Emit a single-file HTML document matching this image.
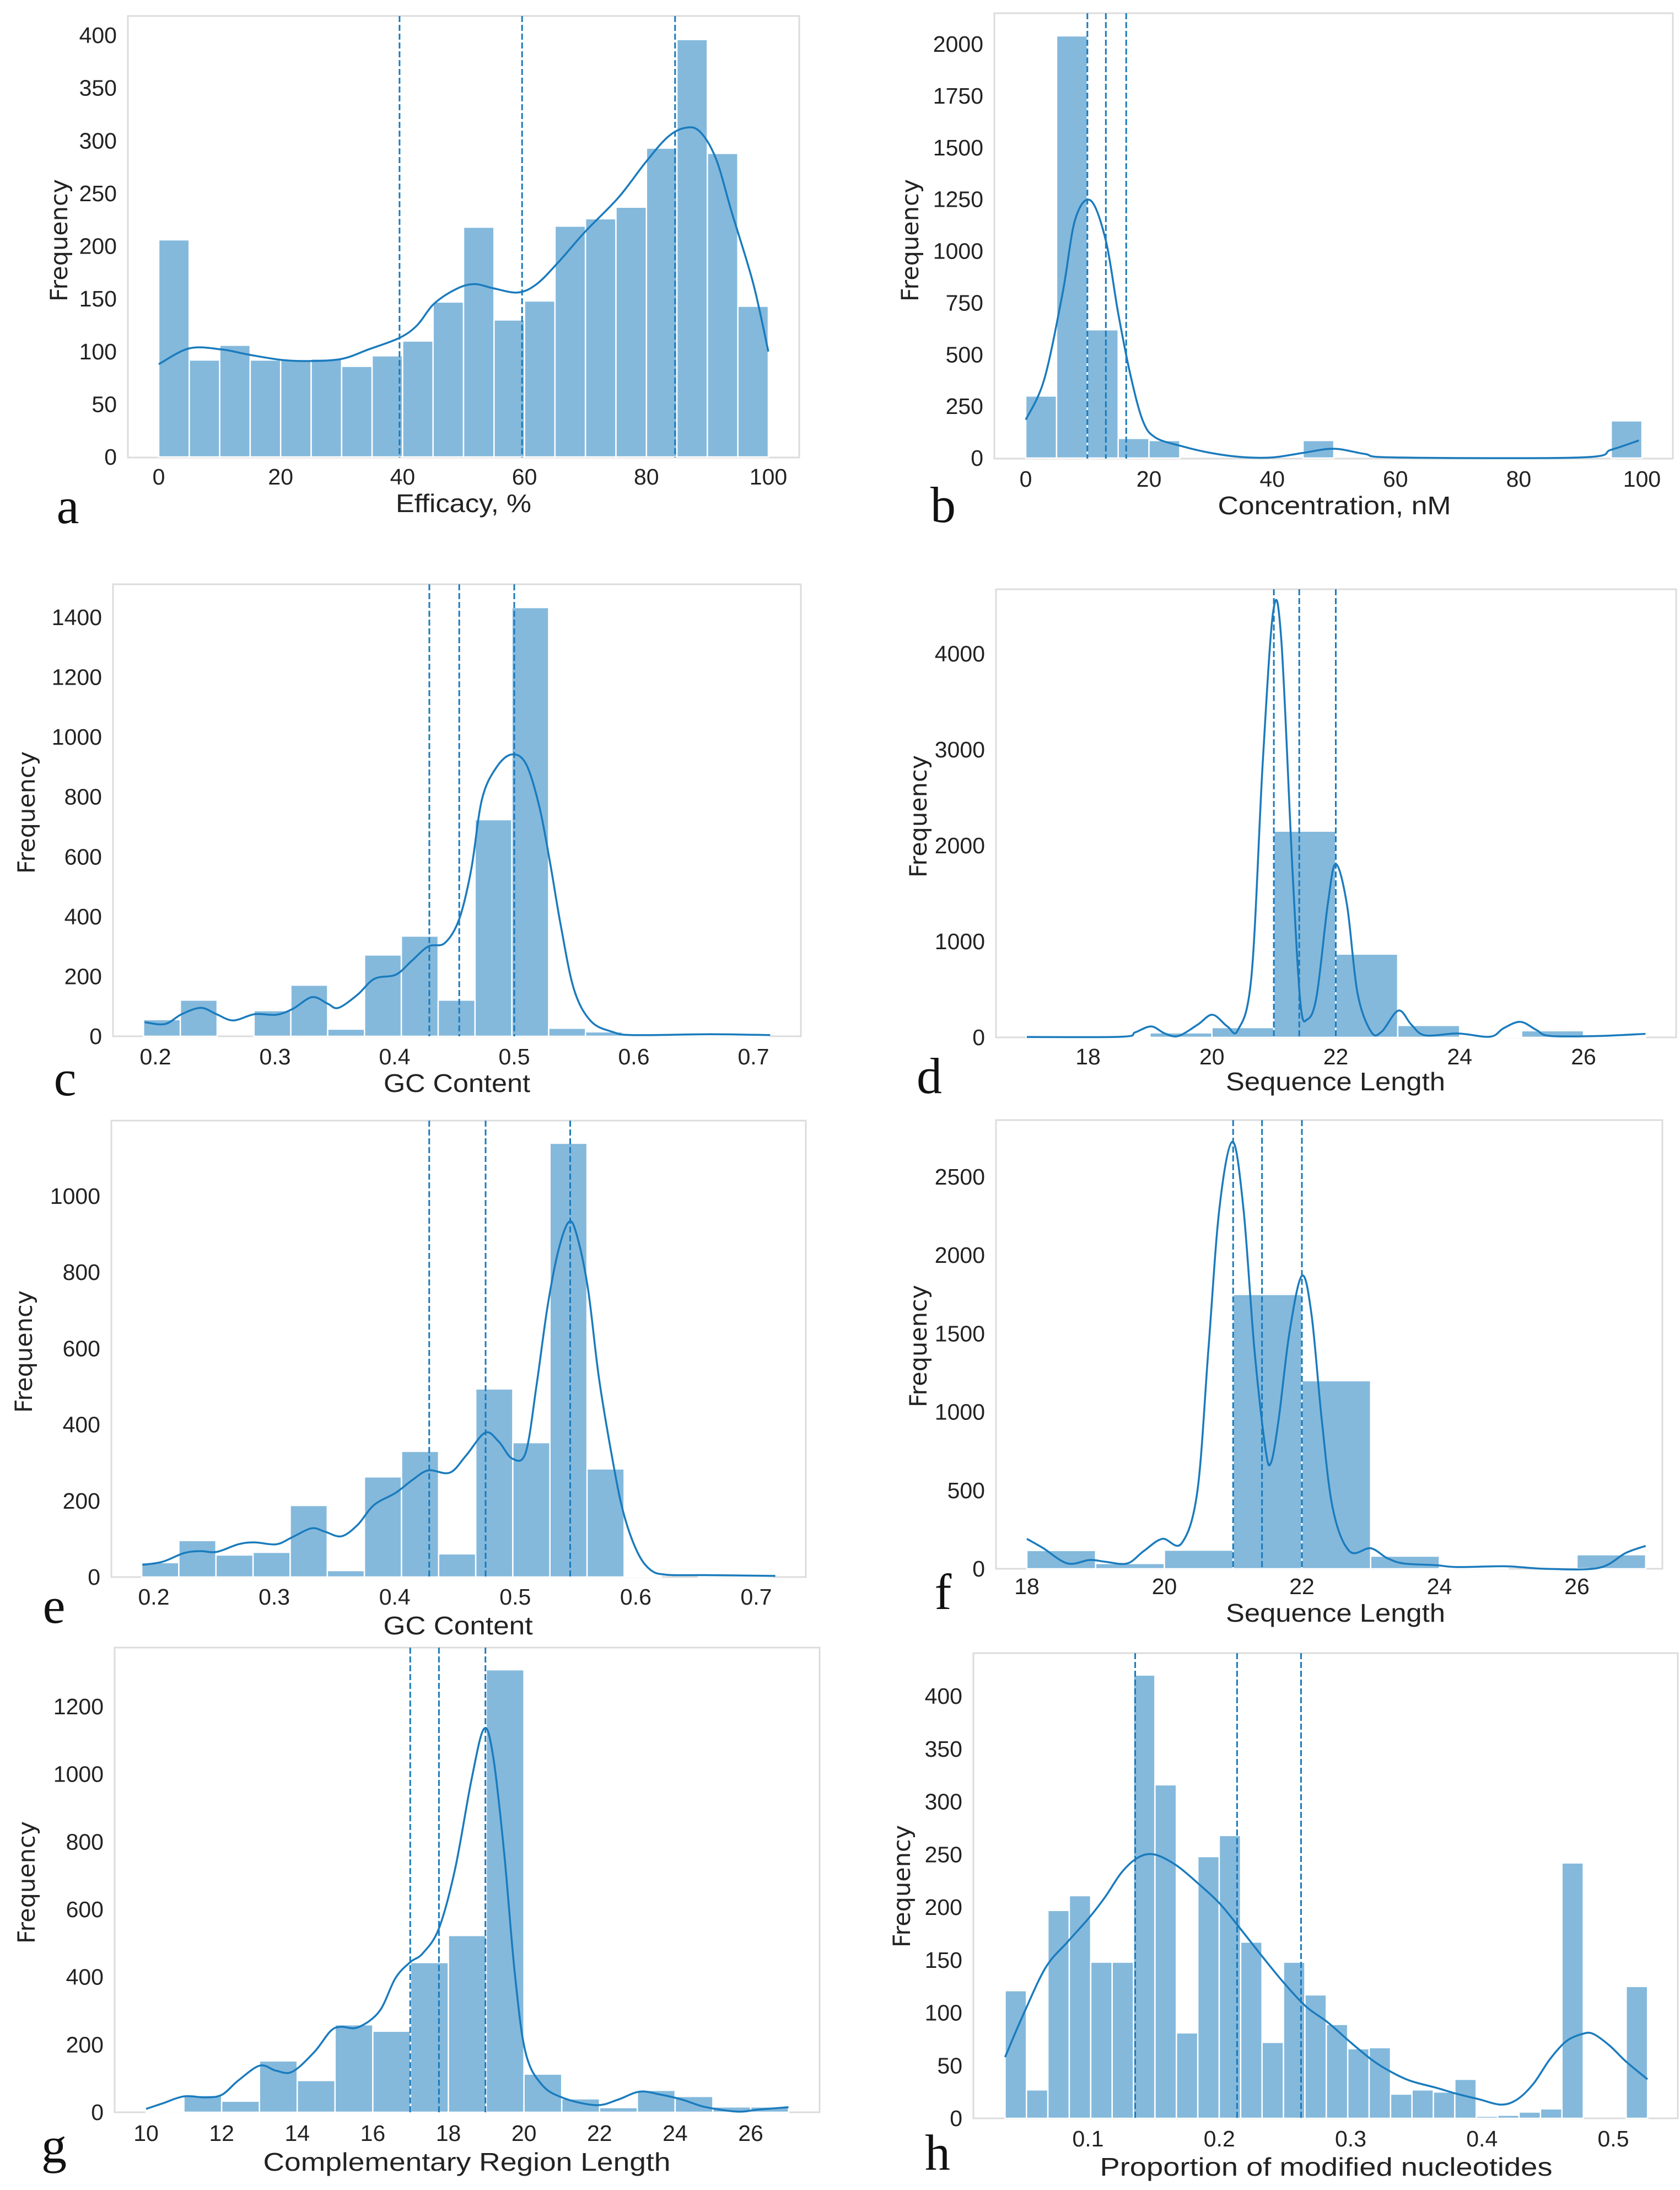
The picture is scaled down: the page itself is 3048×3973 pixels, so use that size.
<!DOCTYPE html>
<html><head><meta charset="utf-8">
<style>
html,body{margin:0;padding:0;background:#fff;}
svg{display:block;}
</style></head>
<body>
<svg id="fig" width="3048" height="3973" viewBox="0 0 3048 3973" xmlns="http://www.w3.org/2000/svg"></svg>
<script>
// ---------- Panel a: Efficacy ----------
const aBinStart = 0, aBinWidth = 5;
const aCounts = [206,92,106,92,92,93,86,96,110,147,218,130,148,219,226,237,293,396,288,143];
const aKdeX = [0,5,10.3,14.8,20.2,24.6,30,34.4,39.5,42.4,45.1,48.7,51.7,54.9,58.9,62,65.6,70,75.4,79.8,83.4,86.2,88.7,91.4,94,97.5,100];
const aKdeY = [88,103,102,97,92,91,93,102,113,125,145,159,164,160,156,164,185,214,246,279,303,312,309,283,232,165,100];
const aQuant = [39.5,59.6,84.7];
const aXTicks = [0,20,40,60,80,100];
const aYTicks = [0,50,100,150,200,250,300,350,400];

// ---------- Panel b: Concentration ----------
const bBinStart = 0, bBinWidth = 5;
const bCounts = [300,2040,620,95,85,0,0,0,0,85,0,0,0,0,0,0,0,0,0,180];
const bKdeX = [0,3,6,8,10.5,13,15,17,19,21,25,30,35,40,45,50,55,60,90,95,99.5];
const bKdeY = [185,380,800,1150,1245,1050,700,400,180,100,60,25,5,3,25,45,20,3,3,40,85];
const bQuant = [10,13,16.3];
const bXTicks = [0,20,40,60,80,100];
const bYTicks = [0,250,500,750,1000,1250,1500,1750,2000];

// ---------- Panel c: GC Content ----------
const cBinStart = 0.19, cBinWidth = 0.0308;
const cCounts = [56,121,0,86,171,24,272,335,121,724,1433,27,15,5,3,2,3];
const cKdeX = [0.191,0.208,0.222,0.238,0.251,0.265,0.283,0.301,0.315,0.331,0.344,0.353,0.369,0.383,0.401,0.414,0.428,0.442,0.454,0.464,0.473,0.485,0.498,0.510,0.521,0.530,0.539,0.550,0.564,0.582,0.600,0.664,0.714];
const cKdeY = [47,41,74,95,74,53,74,72,92,131,109,95,139,192,206,251,300,312,392,557,792,898,942,909,767,579,368,156,51,15,4,7,4];
const cQuant = [0.429,0.454,0.500];
const cXTicks = [0.2,0.3,0.4,0.5,0.6,0.7];
const cYTicks = [0,200,400,600,800,1000,1200,1400];

// ---------- Panel d: Sequence Length ----------
const dBinStart = 17, dBinWidth = 1;
const dCounts = [5,5,48,103,2151,869,125,8,70,5];
const dKdeX = [17.01,18.54,18.76,19.02,19.24,19.46,19.77,20.01,20.25,20.42,20.64,20.82,20.99,21.12,21.30,21.43,21.54,21.69,21.87,22.0,22.18,22.35,22.57,22.74,23.01,23.22,23.44,23.97,24.49,24.71,24.98,25.24,25.46,26.25,27.0];
const dKdeY = [4,7,52,114,41,15,133,236,114,77,648,2858,4442,4147,1753,354,188,427,1385,1808,1385,464,59,59,280,133,22,41,7,96,162,77,15,15,37];
const dQuant = [21.0,21.41,22.0];
const dXTicks = [18,20,22,24,26];
const dYTicks = [0,1000,2000,3000,4000];

// ---------- Panel e: GC Content ----------
const eBinStart = 0.19, eBinWidth = 0.0308;
const eCounts = [38,96,58,65,188,17,263,330,61,494,353,1139,284,3,0,1,2];
const eKdeX = [0.1905,0.2072,0.2252,0.2387,0.2522,0.2702,0.2837,0.3017,0.3152,0.3310,0.3422,0.3557,0.3692,0.3827,0.4007,0.4143,0.4278,0.4457,0.4592,0.475,0.4862,0.4975,0.5087,0.5177,0.5267,0.5357,0.5447,0.5515,0.5605,0.5695,0.5807,0.5897,0.601,0.6122,0.6257,0.6573,0.7158];
const eKdeY = [32,40,63,68,66,86,91,86,105,128,119,107,137,189,221,254,280,274,319,379,356,311,327,504,708,856,933,893,754,522,309,170,68,19,6,5,3];
const eQuant = [0.4286,0.4754,0.5456];
const eXTicks = [0.2,0.3,0.4,0.5,0.6,0.7];
const eYTicks = [0,200,400,600,800,1000];

// ---------- Panel f: Sequence Length ----------
const fBinStart = 18, fBinWidth = 1;
const fCounts = [117,34,119,1750,1200,81,5,0,90];
const fKdeX = [18.0,18.24,18.59,18.91,19.14,19.46,19.70,19.97,20.25,20.48,20.64,20.80,20.99,21.15,21.31,21.47,21.55,21.66,21.82,22.0,22.14,22.29,22.45,22.69,23.0,23.24,23.48,23.95,24.26,24.97,25.53,26.31,26.71,27.0];
const fKdeY = [191,131,34,56,45,34,113,191,162,495,1396,2297,2725,2297,1396,766,676,946,1509,1869,1622,946,383,113,131,68,34,23,11,16,0,5,101,146];
const fQuant = [21.0,21.42,22.0];
const fXTicks = [18,20,22,24,26];
const fYTicks = [0,500,1000,1500,2000,2500];

// ---------- Panel g: Complementary Region Length ----------
const gBinStart = 10, gBinWidth = 1;
const gCounts = [3,50,33,152,94,259,240,443,523,1309,113,40,14,65,47,16,16];
const gKdeX = [10.0,10.43,11.0,11.58,12.01,12.44,13.01,13.44,13.87,14.45,14.88,15.16,15.6,16.17,16.6,16.99,17.32,17.75,18.18,18.61,18.94,19.18,19.47,19.76,20.04,20.47,21.05,21.91,22.48,23.06,23.63,24.2,24.78,25.64,26.21,27.0];
const gKdeY = [10,26,47,44,52,94,138,123,120,178,240,253,251,298,397,444,470,544,721,983,1134,1056,774,408,178,82,42,21,37,61,52,37,16,2,8,15];
const gQuant = [16.99,17.75,18.98];
const gXTicks = [10,12,14,16,18,20,22,24,26];
const gYTicks = [0,200,400,600,800,1000,1200];

// ---------- Panel h: Proportion of modified nucleotides ----------
const hBinStart = 0.0368, hBinWidth = 0.01631;
const hCounts = [121,27,197,211,148,148,420,316,81,248,268,167,72,148,117,89,66,67,23,27,25,37,2,3,6,9,242,0,0,125];
const hKdeX = [0.0368,0.0513,0.0678,0.0843,0.1008,0.1132,0.1256,0.138,0.1504,0.1669,0.1834,0.1999,0.2164,0.2329,0.2494,0.2659,0.2825,0.299,0.3155,0.3279,0.3444,0.365,0.3815,0.398,0.4146,0.4269,0.4393,0.4517,0.4641,0.4765,0.4847,0.4971,0.5095,0.526];
const hKdeY = [58,100,143,167,190,210,233,247,250,240,223,204,179,153,128,106,91,73,56,46,36,29,23,18,13,18,33,56,73,80,80,69,54,37];
const hQuant = [0.1359,0.2135,0.2622];
const hXTicks = [0.1,0.2,0.3,0.4,0.5];
const hYTicks = [0,50,100,150,200,250,300,350,400];

const NS = 'http://www.w3.org/2000/svg';
const svg = document.getElementById('fig');

function mk(tag, attrs, parent){
  const e = document.createElementNS(NS, tag);
  for (const k in attrs) e.setAttribute(k, attrs[k]);
  (parent || svg).appendChild(e);
  return e;
}
function lin(v1,p1,v2,p2){ return v => p1 + (v - v1) * (p2 - p1) / (v2 - v1); }

const panels = [
 {id:'a', letter:'a', xlabel:'Efficacy, %', box:[232,29,1450,830], xr:[0,288,100,1394], yr:[0,829,400,64], tickY:865, labelY:913, labelCx:841, labelW:246, letterPos:[123,918], freq:[108,436],
  binStart:aBinStart, binWidth:aBinWidth, counts:aCounts, kx:aKdeX, ky:aKdeY, quant:aQuant, xt:aXTicks, yt:aYTicks, dec:0},
 {id:'b', letter:'b', xlabel:'Concentration, nM', box:[1804,24,3035,832], xr:[0,1861,100,2979], yr:[0,831,2000,80], tickY:869, labelY:917, labelCx:2421, labelW:423, letterPos:[1711,916], freq:[1652,436],
  binStart:bBinStart, binWidth:bBinWidth, counts:bCounts, kx:bKdeX, ky:bKdeY, quant:bQuant, xt:bXTicks, yt:bYTicks, dec:0},
 {id:'c', letter:'c', xlabel:'GC Content', box:[205,1060,1453,1880], xr:[0.2,282,0.7,1367], yr:[0,1880,1400,1120], tickY:1917, labelY:1965, labelCx:829, labelW:266, letterPos:[118,1956], freq:[49,1474],
  binStart:cBinStart, binWidth:cBinWidth, counts:cCounts, kx:cKdeX, ky:cKdeY, quant:cQuant, xt:cXTicks, yt:cYTicks, dec:1},
 {id:'d', letter:'d', xlabel:'Sequence Length', box:[1807,1069,3041,1882], xr:[18,1974,26,2873], yr:[0,1882,4000,1186], tickY:1917, labelY:1962, labelCx:2423, labelW:398, letterPos:[1686,1952], freq:[1667,1481],
  binStart:dBinStart, binWidth:dBinWidth, counts:dCounts, kx:dKdeX, ky:dKdeY, quant:dQuant, xt:dXTicks, yt:dYTicks, dec:0},
 {id:'e', letter:'e', xlabel:'GC Content', box:[202,2033,1462,2861], xr:[0.2,279,0.7,1372], yr:[0,2861,1000,2170], tickY:2897, labelY:2949, labelCx:831, labelW:271, letterPos:[98,2913], freq:[44,2452],
  binStart:eBinStart, binWidth:eBinWidth, counts:eCounts, kx:eKdeX, ky:eKdeY, quant:eQuant, xt:eXTicks, yt:eYTicks, dec:1},
 {id:'f', letter:'f', xlabel:'Sequence Length', box:[1807,2032,3016,2846], xr:[18,1863,26,2861], yr:[0,2846,2500,2135], tickY:2878, labelY:2926, labelCx:2423, labelW:398, letterPos:[1711,2888], freq:[1667,2442],
  binStart:fBinStart, binWidth:fBinWidth, counts:fCounts, kx:fKdeX, ky:fKdeY, quant:fQuant, xt:fXTicks, yt:fYTicks, dec:0},
 {id:'g', letter:'g', xlabel:'Complementary Region Length', box:[208,2989,1487,3832], xr:[10,265,26,1362], yr:[0,3832,1200,3096], tickY:3870, labelY:3922, labelCx:847, labelW:739, letterPos:[98,3892], freq:[49,3415],
  binStart:gBinStart, binWidth:gBinWidth, counts:gCounts, kx:gKdeX, ky:gKdeY, quant:gQuant, xt:gXTicks, yt:gYTicks, dec:0},
 {id:'h', letter:'h', xlabel:'Proportion of modified nucleotides', box:[1766,2999,3044,3843], xr:[0.1,1974,0.5,2927], yr:[0,3843,400,3077], tickY:3880, labelY:3931, labelCx:2406, labelW:821, letterPos:[1701,3905], freq:[1637,3422],
  binStart:hBinStart, binWidth:hBinWidth, counts:hCounts, kx:hKdeX, ky:hKdeY, quant:hQuant, xt:hXTicks, yt:hYTicks, dec:1}
];

const BAR = '#84b9dc', LINE = '#1a7bbd';

panels.forEach(p => {
  const g = mk('g', {});
  
  
  const X = lin(p.xr[0], p.xr[1], p.xr[2], p.xr[3]);
  const Y = lin(p.yr[0], p.yr[1], p.yr[2], p.yr[3]);
  const [L,T,R,B] = p.box;

  const frame = mk('rect', {x:L, y:T, width:R-L, height:B-T, fill:'#fff', stroke:'#dcdcdc', 'stroke-width':3}, g);
  
  

  // bars
  p.counts.forEach((c, i) => {
    if (c <= 0) return;
    const x0 = X(p.binStart + i * p.binWidth), x1 = X(p.binStart + (i + 1) * p.binWidth);
    const y = Y(c);
    const r = mk('rect', {x:x0, y:y, width:x1-x0, height:Y(0)-y, fill:BAR, stroke:'#fff', 'stroke-width':2.5}, g);
    
    
  });

  // quantile dashed lines
  p.quant.forEach((q, i) => {
    const l = mk('line', {x1:X(q), x2:X(q), y1:T, y2:B, stroke:LINE, 'stroke-width':3, 'stroke-dasharray':'11,5'}, g);
    
    
  });

  // KDE smooth path (Catmull-Rom)
  const pts = p.kx.map((v, i) => [X(v), Y(p.ky[i])]);
  let d = 'M' + pts[0][0] + ',' + pts[0][1];
  for (let i = 0; i < pts.length - 1; i++) {
    const p0 = pts[Math.max(0, i-1)], p1 = pts[i], p2 = pts[i+1], p3 = pts[Math.min(pts.length-1, i+2)];
    const c1 = [p1[0] + (p2[0]-p0[0])/6, p1[1] + (p2[1]-p0[1])/6];
    const c2 = [p2[0] - (p3[0]-p1[0])/6, p2[1] - (p3[1]-p1[1])/6];
    d += ' C' + c1[0] + ',' + c1[1] + ' ' + c2[0] + ',' + c2[1] + ' ' + p2[0] + ',' + p2[1];
  }
  const kde = mk('path', {d:d, fill:'none', stroke:LINE, 'stroke-width':3.5, 'stroke-linejoin':'round'}, g);
  
  

  // y ticks
  p.yt.forEach(v => {
    const t = mk('text', {x:L-20, y:Y(v), 'text-anchor':'end', 'dominant-baseline':'central', 'font-family':'"Liberation Sans", sans-serif', 'font-size':41, fill:'#222'}, g);
    t.textContent = String(v);
    
    
  });
  // x ticks
  p.xt.forEach(v => {
    const t = mk('text', {x:X(v), y:p.tickY, 'text-anchor':'middle', 'dominant-baseline':'central', 'font-family':'"Liberation Sans", sans-serif', 'font-size':41, fill:'#222'}, g);
    t.textContent = p.dec ? v.toFixed(p.dec) : String(v);
    
    
  });
  // x axis title
  const xl = mk('text', {x:p.labelCx, y:p.labelY, 'text-anchor':'middle', 'dominant-baseline':'central', 'font-family':'"Liberation Sans", sans-serif', 'font-size':46, fill:'#222', textLength:p.labelW, lengthAdjust:'spacingAndGlyphs'}, g);
  xl.textContent = p.xlabel;
  
  
  // y axis title
  const yl = mk('text', {x:p.freq[0], y:p.freq[1], 'text-anchor':'middle', 'dominant-baseline':'central', 'font-family':'"DejaVu Sans", sans-serif', 'font-size':43, fill:'#222', transform:'rotate(-90 ' + p.freq[0] + ' ' + p.freq[1] + ')'}, g);
  yl.textContent = 'Frequency';
  
  
  // panel letter
  const pl = mk('text', {x:p.letterPos[0], y:p.letterPos[1], 'text-anchor':'middle', 'dominant-baseline':'central', 'font-family':'"Liberation Serif", serif', 'font-size':92, fill:'#111'}, g);
  pl.textContent = p.letter;
  
  
});
</script>
</body></html>
